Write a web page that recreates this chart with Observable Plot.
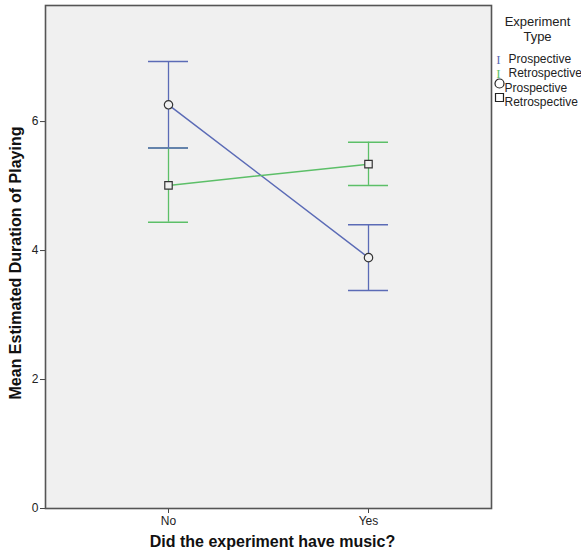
<!DOCTYPE html>
<html>
<head>
<meta charset="utf-8">
<script src="https://cdn.jsdelivr.net/npm/d3@7"></script>
<script src="https://cdn.jsdelivr.net/npm/@observablehq/plot@0.6"></script>
<style>
  html, body { margin: 0; padding: 0; background: #ffffff; }
  #chart { width: 581px; height: 557px; }
  svg { font-family: "Liberation Sans", Arial, sans-serif; }
</style>
</head>
<body>
<div id="chart"></div>
<script>
// ---- Data ----
const music = ["No", "Yes"];
const experimentTypes = ["Prospective", "Retrospective"];
const prospectiveMean  = [6.26, 3.89];
const prospectiveLow   = [5.59, 3.38];
const prospectiveHigh  = [6.93, 4.40];
const retrospectiveMean = [5.01, 5.34];
const retrospectiveLow  = [4.44, 5.01];
const retrospectiveHigh = [5.59, 5.68];
const yTicks = [0, 2, 4, 6];
const legendTitle = ["Experiment", "Type"];

const colors = {Prospective: "#5b6bb6", Retrospective: "#5cbf68"};
const symbols = {Prospective: "circle", Retrospective: "square"};

const rows = [];
music.forEach((m, i) => {
  rows.push({music: m, type: "Prospective", mean: prospectiveMean[i], low: prospectiveLow[i], high: prospectiveHigh[i]});
  rows.push({music: m, type: "Retrospective", mean: retrospectiveMean[i], low: retrospectiveLow[i], high: retrospectiveHigh[i]});
});

const titleFont = "Liberation Sans, Arial, sans-serif";

const chart = Plot.plot({
  width: 581,
  height: 557,
  marginLeft: 45,
  marginRight: 90,
  marginTop: 5,
  marginBottom: 49,
  style: {background: "#ffffff", fontFamily: "Liberation Sans, Arial, sans-serif", fontSize: "12px", color: "#222"},
  x: {type: "band", domain: music, paddingInner: 0.801, paddingOuter: 0.512, label: null},
  y: {domain: [0, 7.8], label: null},
  marks: [
    Plot.frame({fill: "#f0f0f0", stroke: null}),
    Plot.axisX({ticks: music, tickSize: 5, tickPadding: 3, label: null, fontSize: 12, stroke: "#444"}),
    Plot.axisY({ticks: yTicks, tickSize: 5, tickPadding: 2, label: null, fontSize: 12, stroke: "#444"}),
    // error bar stems
    Plot.ruleX(rows, {x: "music", y1: "low", y2: "high", stroke: d => colors[d.type], strokeWidth: 1.3}),
    // error bar caps
    Plot.tickY(rows, {x: "music", y: "high", stroke: d => colors[d.type], strokeWidth: 1.5}),
    Plot.tickY(rows, {x: "music", y: "low", stroke: d => colors[d.type], strokeWidth: 1.5}),
    // mean lines
    ...experimentTypes.map(t => Plot.line(rows.filter(d => d.type === t), {x: "music", y: "mean", stroke: colors[t], strokeWidth: 1.5})),
    // mean markers
    Plot.dot(rows, {x: "music", y: "mean", symbol: d => symbols[d.type], r: 4.2, stroke: "#333", strokeWidth: 1.2, fill: "#f0f0f0"}),
    Plot.frame({stroke: "#555", strokeWidth: 1.6}),
    // axis titles
    Plot.text(["Did the experiment have music?"], {frameAnchor: "bottom", dx: 4, dy: 38, textAnchor: "middle", fontWeight: "bold", fontSize: 16, fontFamily: titleFont, fill: "#111"}),
    Plot.text(["Mean Estimated Duration of Playing"], {frameAnchor: "left", dx: -30, dy: 6, rotate: -90, textAnchor: "middle", fontWeight: "bold", fontSize: 16, fontFamily: titleFont, fill: "#111"}),
    // legend
    Plot.text([legendTitle[0]], {frameAnchor: "top-right", dx: 46, dy: 11, textAnchor: "middle", fontSize: 13, fill: "#222"}),
    Plot.text([legendTitle[1]], {frameAnchor: "top-right", dx: 46, dy: 26, textAnchor: "middle", fontSize: 13, fill: "#222"}),
    Plot.text(["I"], {frameAnchor: "top-right", dx: 7, dy: 49, textAnchor: "middle", fontSize: 13, fontFamily: "Liberation Serif, serif", fill: colors.Prospective}),
    Plot.text([experimentTypes[0]], {frameAnchor: "top-right", dx: 17, dy: 49, textAnchor: "start", fontSize: 12, fill: "#222"}),
    Plot.text(["I"], {frameAnchor: "top-right", dx: 7, dy: 63, textAnchor: "middle", fontSize: 13, fontFamily: "Liberation Serif, serif", fill: colors.Retrospective}),
    Plot.text([experimentTypes[1]], {frameAnchor: "top-right", dx: 17, dy: 63, textAnchor: "start", fontSize: 12, fill: "#222"}),
    Plot.dot([0], {frameAnchor: "top-right", dx: 8, dy: 78, r: 4.5, symbol: "circle", stroke: "#222", strokeWidth: 1.2, fill: "none"}),
    Plot.text([experimentTypes[0]], {frameAnchor: "top-right", dx: 13, dy: 78, textAnchor: "start", fontSize: 12, fill: "#222"}),
    Plot.dot([0], {frameAnchor: "top-right", dx: 8, dy: 92, r: 4.5, symbol: "square", stroke: "#222", strokeWidth: 1.2, fill: "none"}),
    Plot.text([experimentTypes[1]], {frameAnchor: "top-right", dx: 13, dy: 92, textAnchor: "start", fontSize: 12, fill: "#222"})
  ]
});
document.getElementById("chart").appendChild(chart);
</script>
</body>
</html>
